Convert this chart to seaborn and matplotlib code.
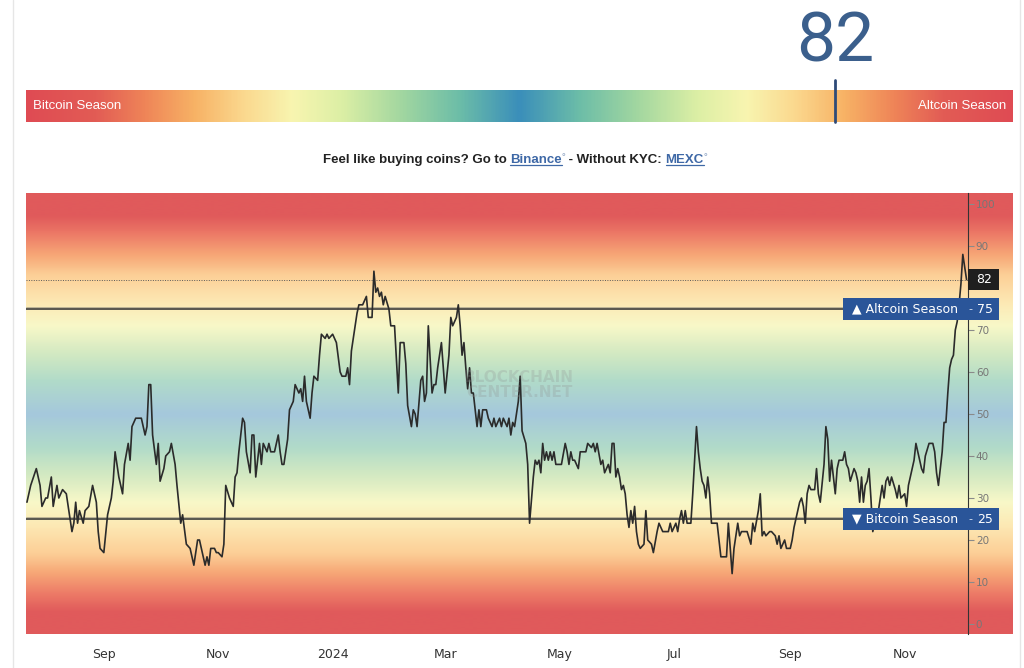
import numpy as np
import pandas as pd
import matplotlib
matplotlib.use("Agg")
import matplotlib.pyplot as plt
import matplotlib.dates as mdates
import matplotlib.transforms as mtransforms
from matplotlib.colors import LinearSegmentedColormap
from matplotlib.patches import Rectangle
from matplotlib.lines import Line2D
from matplotlib.ticker import FuncFormatter
import seaborn as sns

# ------------------------------------------------------------
# data
# ------------------------------------------------------------
base_date = "2023-09-01"   # day_offset is counted from this date

day_offset = [
    -41, -39, -36, -34, -33, -31, -30, -28, -27, -25, -24, -22, -20, -19, -17,
    -16, -15, -14, -13, -11, -10, -8, -6, -4, -3, -2, 0, 2, 4, 5,
    6, 8, 10, 11, 13, 14, 15, 17, 20, 22, 23, 24, 25, 26, 28,
    29, 30, 32, 33, 35, 36, 38, 39, 41, 42,
    44, 46, 48, 50, 51, 52, 54, 55, 56, 57, 59, 60, 61, 63, 64,
    65, 67, 69, 70, 71, 72, 74, 75, 76, 78, 79, 80, 81, 83, 84,
    85, 87, 88, 89, 91, 93, 94, 95, 96, 98, 99, 101, 102, 104, 105,
    106, 107, 108, 110, 111, 112, 114, 115, 116, 118, 119, 120, 122, 123, 124,
    126, 127,
    129, 130, 131, 132, 133, 135, 136, 138, 139, 140, 141, 143, 144, 145, 146,
    147, 148, 149, 150, 152, 153, 155, 156, 157, 158, 160, 161, 162, 164, 165,
    166, 167, 169, 170, 171, 172, 173, 174, 175, 176, 177, 178, 180, 181, 182,
    184, 185, 186, 188, 189, 190, 191, 192, 193, 194, 195, 196, 197, 199, 200,
    201, 202, 204, 205, 207, 208, 209, 211,
    212, 213, 215, 216, 217, 218, 219, 221, 222, 223, 225, 226, 227, 229, 230,
    231, 232, 233, 234, 235, 236, 237, 238, 239, 240, 241, 242, 244, 246, 247,
    248, 249, 250, 251, 253, 254, 257, 258, 260, 261, 262, 263, 265, 266, 267,
    269, 270, 271, 272, 273, 274, 275, 276, 277, 278, 279, 280, 281, 282, 283,
    284, 285, 286, 288, 289, 290, 292, 293, 295,
    296, 298, 300, 301, 302, 303, 305, 306, 307, 308, 309, 310, 311, 313, 314,
    316, 317, 318, 319, 320, 321, 322, 323, 324, 325, 327, 329, 332, 333, 335,
    336, 338, 339, 340, 342, 343, 345, 346, 347, 349, 350, 351, 352, 353, 355,
    356, 358, 359, 360, 361, 363, 364, 366, 367, 368, 370, 371, 372, 373, 374,
    375, 376, 377, 379,
    380, 381, 382, 384, 385, 386, 387, 388, 389, 390, 391, 392, 393, 394, 395,
    396, 397, 398, 400, 401, 402, 403, 404, 405, 406, 407, 408, 409, 410, 411,
    412, 413, 415, 416, 417, 418, 419, 420, 422, 423, 424, 425, 427, 428, 429,
    430, 432, 433, 434, 436, 437, 438, 440, 442, 443, 444, 445, 447, 448, 449,
    450, 451, 452, 453, 454, 455, 456, 457, 458, 459, 460,
]

index_value = [
    29, 33, 37, 33, 28, 30, 30, 35, 28, 33, 30, 32, 31, 28, 22,
    24, 29, 24, 27, 24, 27, 28, 33, 29, 22, 18, 17, 26, 30, 34,
    41, 35, 31, 38, 43, 39, 47, 49, 49, 45, 47, 57, 57, 45, 38,
    43, 34, 37, 40, 41, 43, 38, 33, 24, 26,
    19, 18, 14, 20, 20, 18, 14, 16, 14, 18, 18, 17, 17, 16, 19,
    33, 30, 28, 35, 36, 41, 49, 48, 41, 36, 45, 45, 35, 43, 38,
    43, 41, 43, 41, 41, 45, 41, 38, 38, 44, 51, 53, 57, 55, 56,
    53, 59, 53, 49, 55, 59, 58, 64, 69, 68, 69, 68, 69, 68, 67,
    60, 59,
    59, 61, 57, 65, 68, 74, 76, 76, 77, 78, 73, 73, 84, 79, 80,
    78, 79, 76, 78, 75, 71, 71, 63, 55, 67, 67, 62, 52, 47, 51,
    50, 47, 58, 59, 53, 55, 71, 63, 55, 57, 57, 61, 67, 61, 55,
    64, 73, 71, 73, 76, 71, 64, 67, 61, 56, 61, 55, 55, 47, 51,
    47, 51, 51, 49, 47, 49, 47, 49,
    47, 49, 47, 49, 45, 48, 47, 53, 59, 46, 43, 38, 24, 35, 39,
    38, 39, 36, 43, 39, 41, 39, 41, 39, 41, 38, 38, 38, 43, 41,
    38, 41, 39, 39, 37, 41, 41, 43, 42, 43, 41, 43, 38, 39, 36,
    38, 36, 43, 43, 35, 37, 35, 32, 33, 31, 26, 23, 27, 24, 28,
    22, 19, 18, 19, 27, 20, 19, 17, 22,
    24, 22, 22, 22, 24, 22, 24, 22, 25, 27, 24, 27, 24, 24, 31,
    47, 41, 37, 34, 33, 30, 35, 31, 24, 24, 24, 16, 16, 24, 12,
    18, 24, 21, 22, 22, 22, 19, 24, 22, 27, 31, 21, 22, 21, 22,
    22, 21, 19, 21, 18, 20, 18, 18, 20, 23, 27, 29, 30, 28, 24,
    31, 33, 32, 32,
    37, 31, 29, 38, 47, 44, 34, 39, 35, 31, 37, 39, 39, 39, 41,
    38, 37, 34, 37, 36, 34, 29, 35, 29, 33, 34, 37, 30, 22, 24,
    26, 27, 33, 30, 34, 35, 33, 35, 32, 30, 33, 30, 31, 28, 33,
    35, 39, 43, 41, 37, 36, 40, 43, 43, 41, 36, 33, 41, 48, 48,
    55, 61, 63, 64, 70, 72, 76, 81, 88, 85, 82,
]

current_value = 82
altcoin_level = 75
bitcoin_level = 25
y_ticks = list(range(0, 101, 10))
x_tick_months = [1, 3, 5, 7, 9, 11]
altcoin_label = "\u25B2 Altcoin Season"
bitcoin_label = "\u25BC Bitcoin Season"
gauge_left = "Bitcoin Season"
gauge_right = "Altcoin Season"
watermark = "BLOCKCHAIN\nCENTER.NET"

assert len(day_offset) == len(index_value)

df = pd.DataFrame({
    "date": pd.Timestamp(base_date) + pd.to_timedelta(day_offset, unit="D"),
    "index": index_value,
})

# ------------------------------------------------------------
# figure setup
# ------------------------------------------------------------
sns.set_style("white")
plt.rcParams["font.family"] = ["DejaVu Sans"]

W, H = 1024, 668
fig = plt.figure(figsize=(W / 100, H / 100), dpi=100, facecolor="white")


def fx(px):
    return px / W


def fy(py):
    return 1 - py / H


# page frame lines
for px in (12.5, 1019.5):
    fig.add_artist(Line2D([fx(px)] * 2, [0, 1], color="#e6e6e6", lw=1))

# ------------------------------------------------------------
# chart background gradient
# ------------------------------------------------------------
y_lo, y_hi = -2.38, 102.62
chart_cmap = LinearSegmentedColormap.from_list("chart", [
    (0.0, "#a5c8dc"), (0.15, "#b1dbc9"), (0.27, "#d2e9c2"), (0.40, "#f8f8c8"),
    (0.51, "#fde8b3"), (0.63, "#fccf97"), (0.72, "#f7a877"), (0.82, "#ec7866"),
    (0.90, "#e05a5b"), (1.0, "#e05a5b"),
])
ax_bg = fig.add_axes([fx(26), fy(634), fx(1013) - fx(26), fy(193) - fy(634)])
levels = np.linspace(y_hi, y_lo, 500)
ax_bg.imshow(chart_cmap(np.abs(levels - 50) / 52.62)[:, None, :], aspect="auto",
             extent=[0, 1, y_lo, y_hi], interpolation="bilinear")
ax_bg.set_axis_off()

# ------------------------------------------------------------
# main line chart
# ------------------------------------------------------------
left_px, right_px = 26, 967.5
ax = fig.add_axes([fx(left_px), fy(634), fx(right_px) - fx(left_px), fy(193) - fy(634)])
ax.patch.set_alpha(0)

sns.lineplot(data=df, x="date", y="index", ax=ax, color="#2b2b2b", linewidth=1.2)

t0 = pd.Timestamp(base_date)
ax.set_xlim(t0 + pd.Timedelta(days=-41.5), t0 + pd.Timedelta(days=460.5))
ax.set_ylim(y_lo, y_hi)
ax.set_xlabel("")
ax.set_ylabel("")

ax.yaxis.tick_right()
ax.set_yticks(y_ticks)
# the 80 label sits under the current-value box, as in the original
ax.set_yticklabels(["" if v == 80 else str(v) for v in y_ticks])
ax.tick_params(axis="y", direction="out", length=4, width=0.8, color="#8a8a8a",
               labelcolor="#777777", labelsize=7.5, pad=2, left=False, right=True)


def month_label(v, pos):
    d = mdates.num2date(v)
    return str(d.year) if d.month == 1 else d.strftime("%b")


ax.xaxis.set_major_locator(mdates.MonthLocator(bymonth=x_tick_months))
ax.xaxis.set_major_formatter(FuncFormatter(month_label))
ax.tick_params(axis="x", length=0, labelsize=9, labelcolor="#333333", pad=10)

for side in ["top", "left", "bottom"]:
    ax.spines[side].set_visible(False)
ax.spines["right"].set_color("#333333")
ax.spines["right"].set_linewidth(0.8)

# season threshold lines and current value line
for lvl in (altcoin_level, bitcoin_level):
    ax.axhline(lvl, color="#3c3c3c", lw=1.2, zorder=1)
    ax.axhline(lvl + 0.5, color="#6a6a6a", lw=0.5, alpha=0.6, zorder=1)
ax.axhline(current_value, color="#5a5a5a", lw=0.7, ls=(0, (1, 1.5)), zorder=1)

# labels on the right
trans = mtransforms.blended_transform_factory(ax.transAxes, ax.transData)


def axfx(px):
    return (px - left_px) / (right_px - left_px)


for lvl, label in ((altcoin_level, altcoin_label), (bitcoin_level, bitcoin_label)):
    ax.add_patch(Rectangle((axfx(843), lvl - 2.62), axfx(999) - axfx(843), 5.24,
                           transform=trans, fc="#2a5599", ec="none",
                           clip_on=False, zorder=5))
    ax.text(axfx(852), lvl, label, transform=trans, color="white", fontsize=9,
            ha="left", va="center", clip_on=False, zorder=6)
    ax.text(axfx(970.5), lvl, "-", transform=trans, color="#dfe6f2", fontsize=8,
            ha="center", va="center", clip_on=False, zorder=6)
    ax.text(axfx(985), lvl, str(lvl), transform=trans, color="white", fontsize=9,
            ha="center", va="center", clip_on=False, zorder=6)

ax.add_patch(Rectangle((1.0, current_value - 2.5), axfx(999) - 1.0, 5.0,
                       transform=trans, fc="#1f1f1f", ec="none",
                       clip_on=False, zorder=5))
ax.text(axfx(984), current_value, str(current_value), transform=trans,
        color="white", fontsize=9, ha="center", va="center", clip_on=False, zorder=6)

# watermark
fig.text(fx(519), fy(385), watermark, ha="center", va="center", fontsize=11,
         fontweight="bold", color="#8f8f8f", alpha=0.25, linespacing=0.95)

# ------------------------------------------------------------
# gauge bar on top
# ------------------------------------------------------------
gauge_cmap = LinearSegmentedColormap.from_list("gauge", [
    (0.0, "#3b8fba"), (0.12, "#6cbda8"), (0.24, "#a3d7a0"), (0.36, "#dcefa5"),
    (0.46, "#f8f5b0"), (0.56, "#fbd88e"), (0.66, "#f7b265"), (0.76, "#ef8558"),
    (0.86, "#e25c55"), (1.0, "#df4b53"),
])
ax_g = fig.add_axes([fx(26), fy(122), fx(1013) - fx(26), fy(90) - fy(122)])
gx = np.linspace(0, 100, 800)
ax_g.imshow(gauge_cmap(np.abs(gx - 50) / 50)[None, :, :], aspect="auto",
            extent=[0, 100, 0, 1], interpolation="bilinear")
ax_g.set_xlim(0, 100)
ax_g.set_ylim(0, 1)
ax_g.set_axis_off()

ax_g.plot([current_value] * 2, [0, 42 / 32], color="#2e4a78", lw=2, clip_on=False)
ax_g.text(current_value, (122 - 62) / 32, str(current_value), ha="center",
          va="baseline", fontsize=50, color="#3b5f8c", family="Roboto",
          fontweight="normal", clip_on=False)
ax_g.text(0.7, 0.5, gauge_left, ha="left", va="center", color="white",
          fontsize=9.5, family="Liberation Sans")
ax_g.text(99.3, 0.5, gauge_right, ha="right", va="center", color="white",
          fontsize=9.5, family="Liberation Sans")

# ------------------------------------------------------------
# sub-title with links
# ------------------------------------------------------------
renderer = fig.canvas.get_renderer()
pieces = []
for text, color, size, rise, underline in [
    ("Feel like buying coins? Go to ", "#222222", 9.5, 0, False),
    ("Binance", "#3e68a6", 9.5, 0, True),
    ("\u00b0", "#9db0cc", 6.5, 4, False),
    (" - Without KYC: ", "#222222", 9.5, 0, False),
    ("MEXC", "#3e68a6", 9.5, 0, True),
    ("\u00b0", "#9db0cc", 6.5, 4, False),
]:
    t = fig.text(0, 0, text, color=color, fontsize=size, fontweight="bold",
                 family="Liberation Sans", va="baseline")
    w = t.get_window_extent(renderer).width
    pieces.append((t, w, rise, underline, color))

x = 515 - sum(p[1] for p in pieces) / 2
baseline = 163
for t, w, rise, underline, color in pieces:
    t.set_position((fx(x), fy(baseline - rise)))
    if underline:
        fig.add_artist(Line2D([fx(x), fx(x + w)], [fy(baseline + 2)] * 2,
                              color=color, lw=0.9))
    x += w

fig.savefig("out.png", dpi=100, facecolor="white")
